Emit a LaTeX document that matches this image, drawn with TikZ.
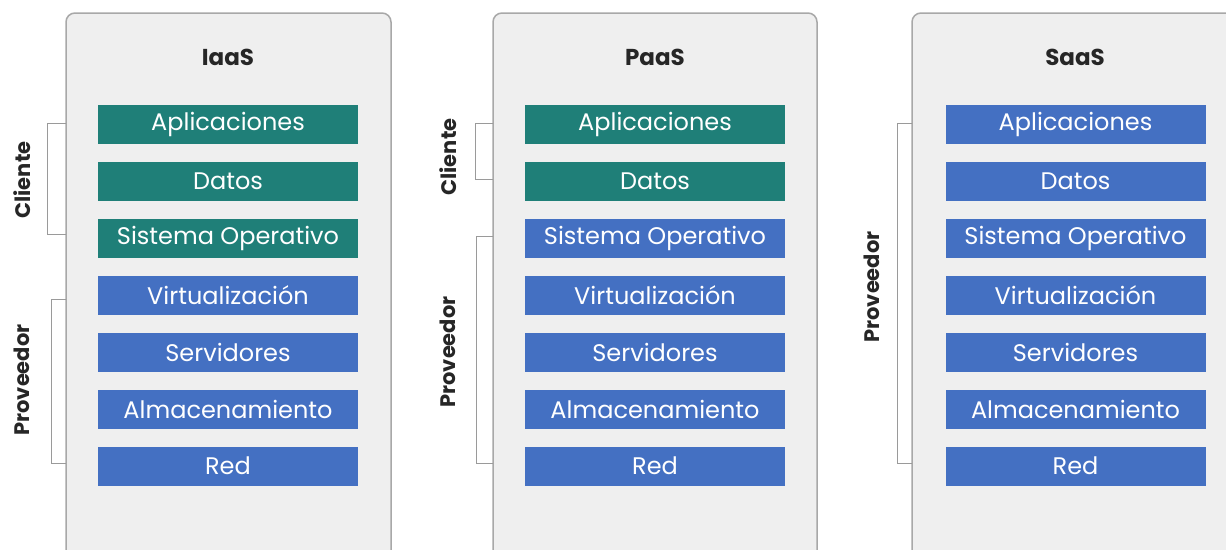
\documentclass[tikz,border=0pt]{standalone}
\usepackage{fontspec}
\setmainfont{Poppins}
\usetikzlibrary{positioning,calc}
\definecolor{verdeC}{HTML}{1F7F78}
\definecolor{azulP}{HTML}{4470C2}
\definecolor{fondoP}{HTML}{EFEFEF}
\definecolor{bordeP}{HTML}{A8A8A8}
\definecolor{llaveC}{HTML}{9A9A9A}

\begin{document}
\begin{tikzpicture}[
  x=1pt, y=-1pt,
  every node/.style={font=\fontsize{22}{26}\selectfont},
  panel/.style={draw=bordeP, line width=1.5pt, fill=fondoP, rounded corners=9pt},
  capa/.style={minimum width=260pt, minimum height=39pt, inner sep=0pt, text=white, font=\fontsize{24}{28}\selectfont},
  cli/.style={capa, fill=verdeC},
  prov/.style={capa, fill=azulP},
  titulo/.style={font=\fontsize{23}{27}\selectfont\bfseries, text=black!85},
  lado/.style={rotate=90, font=\fontsize{21}{25}\selectfont\bfseries, text=black!85},
  llave/.style={llaveC, line width=0.8pt}
]
\useasboundingbox (0,0) rectangle (1226,549);
\clip (0,0) rectangle (1226,549);

% Paneles
\fill[white] (0,0) rectangle (1226,549);
\draw[panel] (66,13) rectangle (391,580);
\draw[panel] (493,13) rectangle (817,580);
\draw[panel] (912,13) rectangle (1250,580);

% Titulos
\node[titulo] (tI) at (228,57) {IaaS};
\node[titulo] (tP) at (655,57) {PaaS};
\node[titulo] (tS) at (1075,57) {SaaS};

% Capas
\foreach \y/\nom/\txt in {124/a/Aplicaciones, 181/b/Datos, 238/c/Sistema Operativo,
  295/d/Virtualización, 352/e/Servidores, 409/f/Almacenamiento, 466/g/Red} {
  \node[prov] (I\nom) at (228,\y) {\txt};
  \node[prov] (P\nom) at (655,\y) {\txt};
  \node[prov] (S\nom) at (1075.5,\y) {\txt};
}
% Capas del cliente
\foreach \y/\nom/\txt in {124/a/Aplicaciones, 181/b/Datos, 238/c/Sistema Operativo} {
  \node[cli] (I\nom) at (228,\y) {\txt};
}
\foreach \y/\nom/\txt in {124/a/Aplicaciones, 181/b/Datos} {
  \node[cli] (P\nom) at (655,\y) {\txt};
}

% Llaves IaaS
\coordinate (IcA) at (66,123);
\coordinate (IcB) at (66,234);
\draw[llave] (IcA) -- ++(-19,0) |- (IcB);
\node[lado] (IcL) at (22,180) {Cliente};
\coordinate (IpA) at (66,299);
\coordinate (IpB) at (66,463);
\draw[llave] (IpA) -- ++(-15,0) |- (IpB);
\node[lado] (IpL) at (22,380) {Proveedor};

% Llaves PaaS
\coordinate (PcA) at (493,123);
\coordinate (PcB) at (493,179);
\draw[llave] (PcA) -- ++(-18,0) |- (PcB);
\node[lado] (PcL) at (448,157) {Cliente};
\coordinate (PpA) at (493,236);
\coordinate (PpB) at (493,463);
\draw[llave] (PpA) -- ++(-17,0) |- (PpB);
\node[lado] (PpL) at (448,352) {Proveedor};

% Llave SaaS
\coordinate (SpA) at (912,123);
\coordinate (SpB) at (912,463);
\draw[llave] (SpA) -- ++(-15,0) |- (SpB);
\node[lado] (SpL) at (872,287) {Proveedor};
\end{tikzpicture}
\end{document}
